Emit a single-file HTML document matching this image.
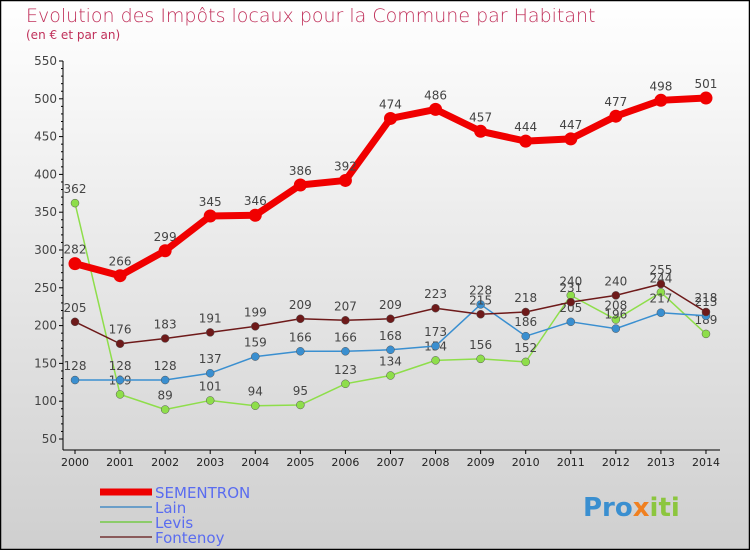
<!DOCTYPE html>
<html><head><meta charset="utf-8"><style>
body{margin:0}
#c{width:750px;height:550px;position:relative;font-family:"DejaVu Sans","Liberation Sans",sans-serif;}
</style></head><body>
<div id="c">
<svg id="s" width="750" height="550" xmlns="http://www.w3.org/2000/svg">
<defs><linearGradient id="bg" x1="0" y1="0" x2="0" y2="1"><stop offset="0" stop-color="#ffffff"/><stop offset="1" stop-color="#cfcfcf"/></linearGradient></defs>
<rect x="0.5" y="0.5" width="749" height="549" fill="url(#bg)" stroke="#000" stroke-width="1.5"/>
<text x="26" y="22" font-size="19" fill="#c0305a" font-weight="200">Evolution des Impôts locaux pour la Commune par Habitant</text>
<text x="26" y="39" font-size="12" fill="#c0305a">(en € et par an)</text>
<g id="axes"></g><g id="series"></g>
<g font-size="15" fill="#5a6cf0">
<line x1="100" y1="492" x2="152" y2="492" stroke="#e00" stroke-width="7"/><text x="155" y="498">SEMENTRON</text>
<line x1="100" y1="507" x2="152" y2="507" stroke="#6a9ec8" stroke-width="2"/><text x="155" y="513">Lain</text>
<line x1="100" y1="522" x2="152" y2="522" stroke="#8ccc6a" stroke-width="2"/><text x="155" y="528">Levis</text>
<line x1="100" y1="537" x2="152" y2="537" stroke="#8a5a5a" stroke-width="2"/><text x="155" y="543">Fontenoy</text>
</g>
<text x="583" y="516" font-size="26" font-weight="bold" fill="#3a8fd0">Pro<tspan fill="#f08020">x</tspan><tspan fill="#8cc63e">iti</tspan></text>
</svg></div>
<script>
const years=["2000","2001","2002","2003","2004","2005","2006","2007","2008","2009","2010","2011","2012","2013","2014"];
const sementron=[282,266,299,345,346,386,392,474,486,457,444,447,477,498,501];
const lain=[128,128,128,137,159,166,166,168,173,228,186,205,196,217,213];
const levis=[362,109,89,101,94,95,123,134,154,156,152,240,208,244,189];
const fontenoy=[205,176,183,191,199,209,207,209,223,215,218,231,240,255,218];
const yTicks=[50,100,150,200,250,300,350,400,450,500,550];
const NS="http://www.w3.org/2000/svg";
const X=i=>75+i*45.07, Y=v=>439-(v-50)*0.756;
function mk(t,a,p){const e=document.createElementNS(NS,t);for(const k in a)e.setAttribute(k,a[k]);if(p)p.appendChild(e);return e;}
const ax=document.getElementById('axes'),sr=document.getElementById('series');
const yl=mk('line',{x1:63,y1:Y(550),x2:63,y2:450,stroke:'#000'},ax);

const xl=mk('line',{x1:63,y1:450,x2:720,y2:450,stroke:'#000'},ax);

yTicks.forEach(v=>{mk('line',{x1:59,y1:Y(v),x2:63,y2:Y(v),stroke:'#000'},ax);
for(let m=1;m<5;m++){if(v<550)mk('line',{x1:61,y1:Y(v+m*10),x2:63,y2:Y(v+m*10),stroke:'#000'},ax);}
const t=mk('text',{x:57,y:Y(v)+4,'text-anchor':'end','font-size':12,fill:'#444'},ax);t.textContent=v;
});
years.forEach((y,i)=>{mk('line',{x1:X(i),y1:450,x2:X(i),y2:454,stroke:'#000'},ax);
const t=mk('text',{x:X(i),y:466,'text-anchor':'middle','font-size':11,fill:'#222'},ax);t.textContent=y;
});
function draw(name,data,col,w,r){const g=mk('g',{},sr);
const pl=mk('polyline',{points:data.map((v,i)=>X(i)+','+Y(v)).join(' '),fill:'none',stroke:col,'stroke-width':w,'stroke-linejoin':'round'},g);

data.forEach((v,i)=>{const c=mk('circle',{cx:X(i),cy:Y(v),r:r,fill:col,stroke:r>5?'none':'#555','stroke-width':0.5},g);

const t=mk('text',{x:X(i),y:Y(v)-10,'text-anchor':'middle','font-size':12,fill:'#444'},g);t.textContent=v;
});}
draw('levis',levis,'#8ede4a',1.5,4);
draw('lain',lain,'#3a8fd0',1.5,4);
draw('fontenoy',fontenoy,'#6e1a1a',1.5,4);
draw('sementron',sementron,'#f00000',7,6.5);
</script></body></html>
